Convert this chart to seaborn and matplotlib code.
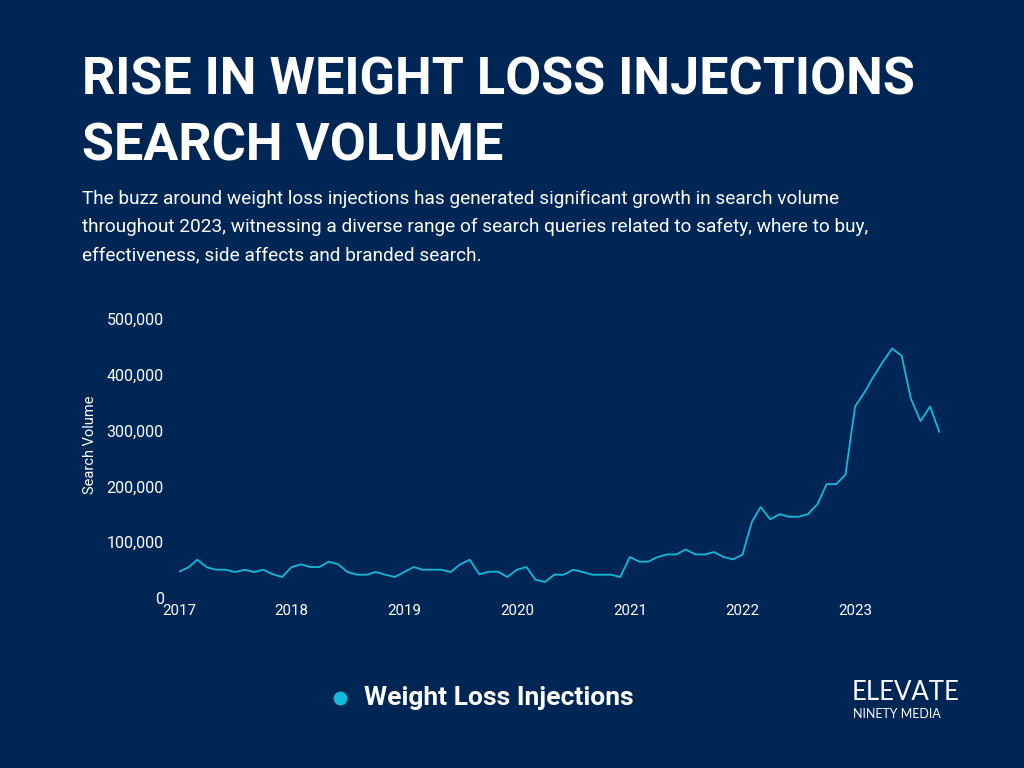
import matplotlib.pyplot as plt
import matplotlib.dates as mdates
from matplotlib.ticker import FuncFormatter
import seaborn as sns
import pandas as pd

# Monthly search volume, Jan 2017 - Oct 2023
search_volume = [
    47000, 55000, 68500, 55000, 50600, 50600, 46500, 50600, 46500, 50600, 42400, 37600,  # 2017
    55500, 60300, 55500, 55500, 65000, 60300, 46500, 41700, 41700, 46500, 41700, 37600,  # 2018
    46500, 55500, 50600, 50600, 50600, 46500, 60300, 68500, 42400, 47000, 47000, 37600,  # 2019
    50600, 55500, 32800, 28600, 41700, 41700, 50600, 46500, 41700, 41700, 41700, 37600,  # 2020
    73300, 65000, 65000, 73300, 78100, 78000, 87000, 78000, 78000, 82300, 73300, 69200,  # 2021
    77500, 137000, 163000, 141000, 150000, 145500, 145500, 150000, 168000, 204000, 204000, 221000,  # 2022
    343000, 369000, 396000, 423000, 447000, 434000, 357000, 317000, 343000, 297500,  # 2023
]
months = pd.date_range("2017-01-01", periods=len(search_volume), freq="MS")
series_name = "Weight Loss Injections"
y_ticks = [0, 100000, 200000, 300000, 400000, 500000]
x_years = [2017, 2018, 2019, 2020, 2021, 2022, 2023]

BG = "#002656"
LINE = "#16b8d9"

df = pd.DataFrame({"Month": months, "Search Volume": search_volume})

sns.set_theme(style="white")
plt.rcParams["font.family"] = ["Roboto", "DejaVu Sans"]

fig = plt.figure(figsize=(10.24, 7.68), dpi=100, facecolor=BG)
ax = fig.add_axes([0.1748, 0.2214, 0.7702, 0.3633])
ax.set_facecolor(BG)

sns.lineplot(data=df, x="Month", y="Search Volume", ax=ax, color=LINE, linewidth=1.3)

ax.set_ylim(0, 500000)
ax.set_yticks(y_ticks)
ax.yaxis.set_major_formatter(FuncFormatter(lambda v, _: f"{int(v):,}"))
ax.set_xlim(pd.Timestamp("2017-01-01"), pd.Timestamp("2024-01-01"))
ax.set_xticks([pd.Timestamp(f"{y}-01-01") for y in x_years])
ax.xaxis.set_major_formatter(mdates.DateFormatter("%Y"))
ax.tick_params(axis="y", colors="white", labelsize=11.5, length=0, pad=11)
ax.tick_params(axis="x", colors="white", labelsize=10.8, length=0, pad=4)
ax.set_xlabel("")
ax.set_ylabel("Search Volume", color="white", fontsize=10.5)
ax.yaxis.set_label_coords(-0.104, 0.548)
sns.despine(ax=ax, left=True, bottom=True)

# Title and intro text
fig.text(0.080, 0.877, "RISE IN WEIGHT LOSS INJECTIONS", color="white",
         fontsize=37.5, fontweight="bold", ha="left", va="baseline")
fig.text(0.080, 0.791, "SEARCH VOLUME", color="white",
         fontsize=37.5, fontweight="bold", ha="left", va="baseline")
intro = ("The buzz around weight loss injections has generated significant growth in search volume\n"
         "throughout 2023, witnessing a diverse range of search queries related to safety, where to buy,\n"
         "effectiveness, side affects and branded search.")
fig.text(0.080, 0.753, intro, color="white", fontsize=13.7, ha="left", va="top",
         linespacing=1.74)

# Legend
fig.lines.append(plt.Line2D([0.332], [1 - 698 / 768], marker="o", markersize=9,
                            color=LINE, transform=fig.transFigure, linestyle=""))
fig.text(0.355, 1 - 698 / 768, series_name, color="white", fontsize=19,
         fontweight="bold", ha="left", va="center")

# Logo text
fig.text(0.832, 1 - 693 / 768, "ELEVATE", color="white", fontsize=18.5,
         family=["Lato", "DejaVu Sans"], ha="left", va="center")
fig.text(0.833, 1 - 714 / 768, "NINETY MEDIA", color="white", fontsize=9,
         family=["Lato", "DejaVu Sans"], ha="left", va="center")

fig.savefig("out.png", dpi=100, facecolor=BG)
